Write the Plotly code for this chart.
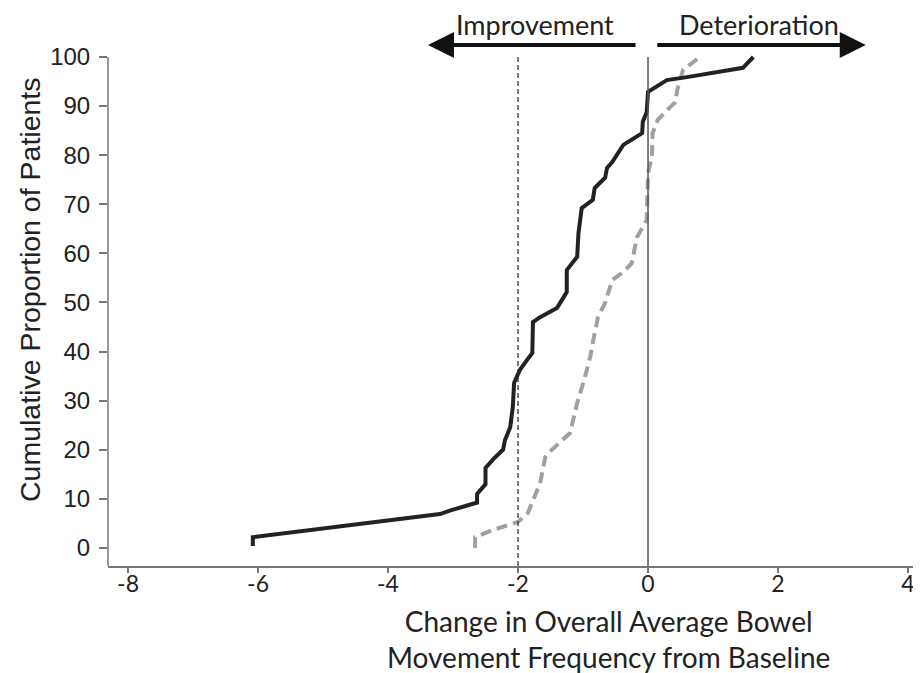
import plotly.graph_objects as go

# Cumulative distribution curves
solid_x = [-6.08, -6.08, -3.2, -3.05, -2.69, -2.63, -2.63, -2.5, -2.5, -2.38, -2.23, -2.2, -2.12,
           -2.08, -2.06, -1.97, -1.86, -1.78, -1.77, -1.66, -1.4, -1.25, -1.25, -1.09, -1.07,
           -1.02, -0.85, -0.82, -0.66, -0.63, -0.55, -0.38, -0.09, -0.08, -0.02, 0.0, 0.0,
           0.29, 0.6, 1.46, 1.62]
solid_y = [0.4, 2.2, 6.9, 7.6, 9.0, 9.2, 11.0, 13.0, 16.3, 18.1, 20.0, 22.0, 24.6,
           28.7, 33.6, 36.3, 38.3, 39.7, 46.0, 47.0, 48.9, 52.1, 56.6, 59.3, 64.1,
           69.2, 70.9, 73.3, 75.4, 77.4, 78.6, 82.1, 84.5, 86.8, 88.8, 91.9, 92.9,
           95.3, 95.9, 97.8, 100.0]

dashed_x = [-2.66, -2.66, -2.38, -2.0, -1.85, -1.66, -1.58, -1.48, -1.2, -1.09, -0.97, -0.89,
            -0.84, -0.77, -0.66, -0.55, -0.38, -0.25, -0.17, -0.02, 0.0, 0.06, 0.07, 0.15,
            0.34, 0.42, 0.45, 0.54, 0.8]
dashed_y = [0.0, 2.2, 3.7, 5.3, 7.1, 13.2, 18.5, 20.0, 23.4, 29.5, 34.8, 38.9,
            42.4, 47.0, 49.9, 54.6, 56.2, 58.0, 63.3, 66.8, 76.4, 79.6, 84.5, 87.2,
            89.8, 90.8, 93.3, 97.4, 100.0]

x_ticks = [-8, -6, -4, -2, 0, 2, 4]
x_tick_labels = ["-8", "-6", "-4", "-2", "0", "2", "4"]
y_ticks = [0, 10, 20, 30, 40, 50, 60, 70, 80, 90, 100]
y_tick_labels = [str(v) for v in y_ticks]

x_title = "Change in Overall Average Bowel<br>Movement Frequency from Baseline"
y_title = "Cumulative Proportion of Patients"
left_label = "Improvement"
right_label = "Deterioration"

XR = [-8.308, 4.2]
YR = [-3.67, 103.46]
CAL = "Lato, Open Sans, sans-serif"
ARIAL = "Liberation Sans, Arial, sans-serif"

fig = go.Figure()
fig.add_trace(go.Scatter(x=dashed_x, y=dashed_y, mode="lines",
                         line=dict(color="#a0a0a0", width=4, dash="11px,6px"),
                         showlegend=False, hoverinfo="skip"))
fig.add_trace(go.Scatter(x=solid_x, y=solid_y, mode="lines",
                         line=dict(color="#222222", width=4),
                         showlegend=False, hoverinfo="skip"))

# reference lines
fig.add_shape(type="line", xref="x", yref="y", x0=-2, x1=-2, y0=YR[0], y1=100,
              line=dict(color="#333333", width=1.3, dash="5px,3px"))
fig.add_shape(type="line", xref="x", yref="y", x0=0, x1=0, y0=YR[0], y1=100,
              line=dict(color="#555555", width=1.5))
# y axis line (stops at 100)
fig.add_shape(type="line", xref="paper", yref="y", x0=0, x1=0, y0=YR[0], y1=100,
              line=dict(color="#777777", width=1.5))

# direction arrows
fig.add_annotation(xref="x", yref="paper", x=-3.385, y=0.9905, ax=209, ay=0,
                   axref="pixel", ayref="pixel", showarrow=True, arrowhead=2,
                   arrowwidth=4, arrowsize=1.3, arrowcolor="#111111", text="")
fig.add_annotation(xref="x", yref="paper", x=3.35, y=0.9905, ax=-210, ay=0,
                   axref="pixel", ayref="pixel", showarrow=True, arrowhead=2,
                   arrowwidth=4, arrowsize=1.3, arrowcolor="#111111", text="")
fig.add_annotation(xref="paper", yref="paper", x=0.525, y=1.0295, text=left_label,
                   showarrow=False, xanchor="center", yanchor="middle",
                   font=dict(family=CAL, size=27, color="#222222"))
fig.add_annotation(xref="paper", yref="paper", x=0.8007, y=1.0295, text=right_label,
                   showarrow=False, xanchor="center", yanchor="middle",
                   font=dict(family=CAL, size=27, color="#222222"))

# axis titles
fig.add_annotation(xref="paper", yref="paper", x=0.616, y=-0.1395, text=x_title,
                   showarrow=False, xanchor="center", yanchor="middle",
                   font=dict(family=CAL, size=28, color="#222222"))
fig.add_annotation(xref="paper", yref="paper", x=-0.0959, y=0.5247, text=y_title,
                   textangle=-90, showarrow=False, xanchor="center", yanchor="middle",
                   font=dict(family=ARIAL, size=28.5, color="#222222"))

fig.update_xaxes(range=XR, tickvals=x_ticks, ticktext=x_tick_labels, showgrid=False,
                 zeroline=False, showline=True, linecolor="#777777", linewidth=1.5,
                 ticks="outside", ticklen=5, tickcolor="#777777", tickwidth=1.5,
                 ticklabelstandoff=-8,
                 tickfont=dict(family=CAL, size=23, color="#222222"))
fig.update_yaxes(range=YR, tickvals=y_ticks, ticktext=y_tick_labels, showgrid=False,
                 zeroline=False, showline=False,
                 ticks="outside", ticklen=8, tickcolor="#777777", tickwidth=1.5,
                 ticklabelstandoff=4,
                 tickfont=dict(family=ARIAL, size=24, color="#222222"))

# page body has an 8px margin; size the figure so the plot lands where the reference has it
fig.update_layout(width=913, height=665, margin=dict(l=100, r=0, t=32, b=107),
                  paper_bgcolor="white", plot_bgcolor="white")

fig.write_html("out.html")
